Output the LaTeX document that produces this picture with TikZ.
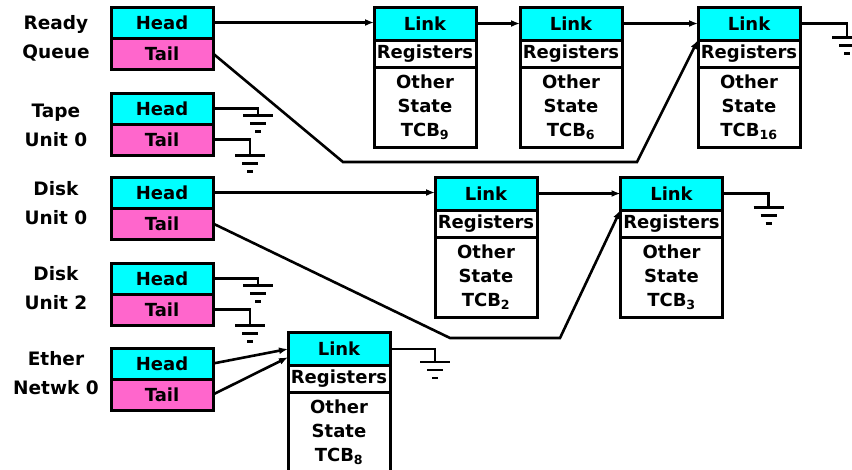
\documentclass[tikz,border=0pt]{standalone}
\usepackage{fontspec}
\setmainfont{DejaVu Sans}
\usetikzlibrary{arrows.meta,positioning,calc}

\definecolor{linkcyan}{RGB}{0,255,255}
\definecolor{tailpink}{RGB}{255,102,204}

\tikzset{
  ground/.pic={
    \draw[line width=2.6pt] (-15,0) -- (15,0);
    \draw[line width=2.6pt] (-8,8) -- (8,8);
    \draw[line width=2.6pt] (-3,16) -- (3,16);
  }
}

\begin{document}
\begin{tikzpicture}[x=1pt,y=-1pt,>={Latex[length=9pt,width=7pt]}]

\tikzstyle{qbox}=[
  rectangle,
  draw,
  line width=3pt,
  minimum width=102pt,
  minimum height=31pt,
  inner sep=0pt,
  outer sep=0pt,
  font=\fontsize{18}{20}\selectfont\bfseries
]
\tikzstyle{headbox}=[qbox, fill=linkcyan]
\tikzstyle{tailbox}=[qbox, fill=tailpink]
\tikzstyle{linkbox}=[qbox, fill=linkcyan, minimum height=33pt]
\tikzstyle{regbox}=[qbox, fill=white, minimum height=27pt]
\tikzstyle{statebox}=[qbox, fill=white, minimum height=80pt, align=center,
  font=\fontsize{18}{24}\selectfont\bfseries]
\tikzstyle{qlabel}=[align=center, inner sep=0pt,
  font=\fontsize{18.5}{29}\selectfont\bfseries]
\tikzstyle{wire}=[line width=2.6pt]

\useasboundingbox (0,0) rectangle (852,469);
\clip (0,0) rectangle (852,469);

% Queue headers
\node[qlabel] (rqlabel) at (56,38) {Ready\\Queue};
\node[headbox] (rqhead) at (162,22.5) {Head};
\node[tailbox, below=0pt of rqhead] (rqtail) {Tail};

\node[qlabel] (tp0label) at (56,125) {Tape\\Unit 0};
\node[headbox] (tp0head) at (162,108.5) {Head};
\node[tailbox, below=0pt of tp0head] (tp0tail) {Tail};

\node[qlabel] (dk0label) at (56,203.5) {Disk\\Unit 0};
\node[headbox] (dk0head) at (162,192.5) {Head};
\node[tailbox, below=0pt of dk0head] (dk0tail) {Tail};

\node[qlabel] (dk2label) at (56,288.5) {Disk\\Unit 2};
\node[headbox] (dk2head) at (162,278.5) {Head};
\node[tailbox, below=0pt of dk2head] (dk2tail) {Tail};

\node[qlabel] (etlabel) at (56,373) {Ether\\Netwk 0};
\node[headbox] (ethead) at (162,363.5) {Head};
\node[tailbox, below=0pt of ethead] (ettail) {Tail};

% Thread control blocks
\node[linkbox] (tcb9link) at (425,23.5) {Link};
\node[regbox, below=0pt of tcb9link] (tcb9regs) {Registers};
\node[statebox, below=0pt of tcb9regs] (tcb9state) {Other\\State\\TCB\textsubscript{9}};

\node[linkbox] (tcb6link) at (571,23.5) {Link};
\node[regbox, below=0pt of tcb6link] (tcb6regs) {Registers};
\node[statebox, below=0pt of tcb6regs] (tcb6state) {Other\\State\\TCB\textsubscript{6}};

\node[linkbox] (tcb16link) at (749,23.5) {Link};
\node[regbox, below=0pt of tcb16link] (tcb16regs) {Registers};
\node[statebox, below=0pt of tcb16regs] (tcb16state) {Other\\State\\TCB\textsubscript{16}};

\node[linkbox] (tcb2link) at (486,193.5) {Link};
\node[regbox, below=0pt of tcb2link] (tcb2regs) {Registers};
\node[statebox, below=0pt of tcb2regs] (tcb2state) {Other\\State\\TCB\textsubscript{2}};

\node[linkbox] (tcb3link) at (671.5,193.5) {Link};
\node[regbox, below=0pt of tcb3link] (tcb3regs) {Registers};
\node[statebox, below=0pt of tcb3regs] (tcb3state) {Other\\State\\TCB\textsubscript{3}};

\node[linkbox] (tcb8link) at (339,349) {Link};
\node[regbox, below=0pt of tcb8link] (tcb8regs) {Registers};
\node[statebox, below=0pt of tcb8regs] (tcb8state) {Other\\State\\TCB\textsubscript{8}};

% Ready queue
\draw[->, wire] (rqhead.east) -- (rqhead.east -| tcb9link.west);
\draw[->, wire] (tcb9link) -- (tcb6link);
\draw[->, wire] (tcb6link) -- (tcb16link);
\draw[->, wire] (rqtail.east) -- (343,162) -- (637,162) -- (tcb16link.south west);
\draw[wire] (tcb16link.east) -| ++(47,14) pic {ground};

% Disk unit 0
\draw[->, wire] (dk0head.east) -- (dk0head.east -| tcb2link.west);
\draw[->, wire] (tcb2link) -- (tcb3link);
\draw[->, wire] (dk0tail.east) -- (450,338) -- (560,338) -- (tcb3link.south west);
\draw[wire] (tcb3link.east) -| ++(46,14) pic {ground};

% Ether network 0
\draw[->, wire] (ethead.east) -- (tcb8link.west);
\draw[->, wire] (ettail.east) -- ($(tcb8link.west)!0.5!(tcb8link.south west)$);
\draw[wire] (tcb8link.east) -| ++(45,13) pic {ground};

% Empty queues
\draw[wire] (tp0head.east) -| ++(45,7) pic {ground};
\draw[wire] (tp0tail.east) -| ++(37,16) pic {ground};
\draw[wire] (dk2head.east) -| ++(45,7) pic {ground};
\draw[wire] (dk2tail.east) -| ++(37,16) pic {ground};

\end{tikzpicture}
\end{document}
